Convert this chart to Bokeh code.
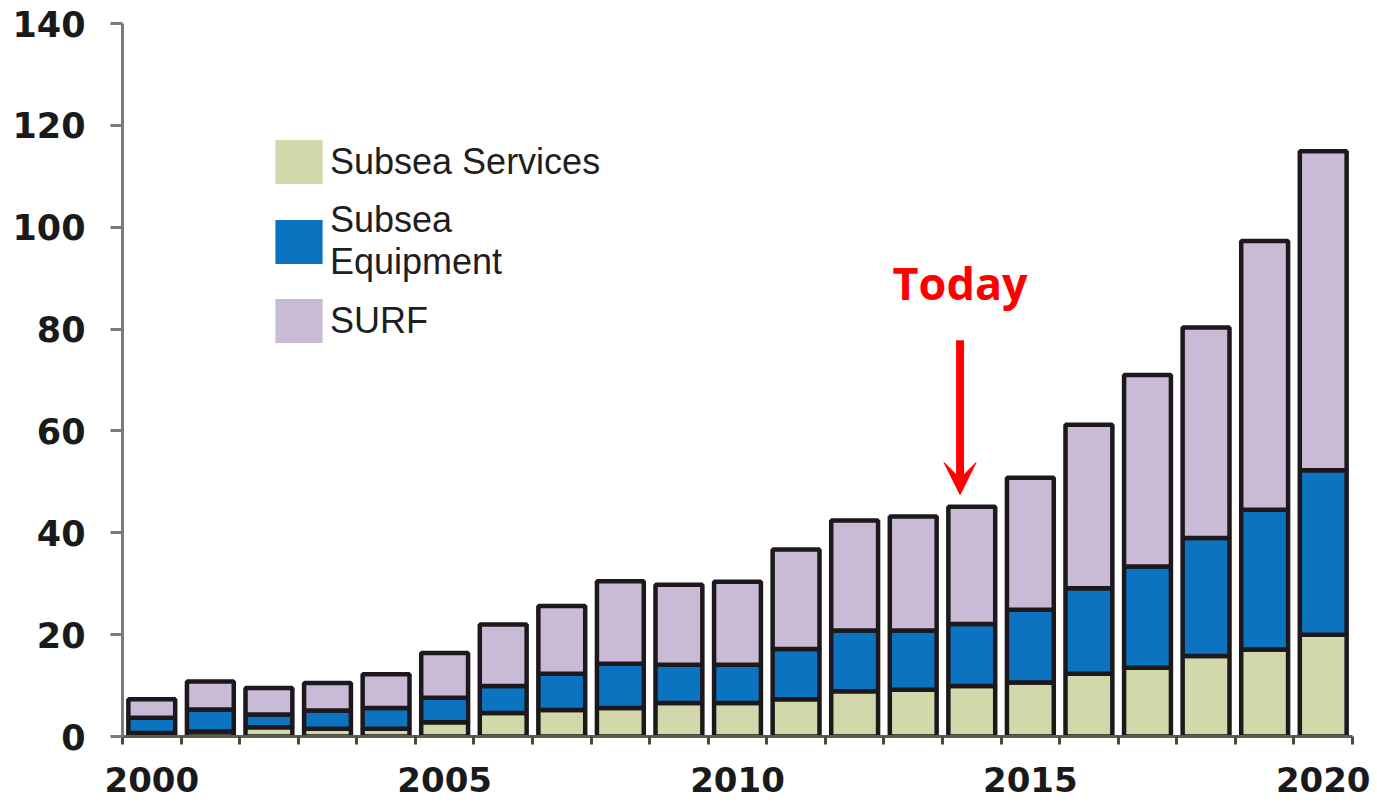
from bokeh.plotting import figure
from bokeh.models import (ColumnDataSource, Range1d, FixedTicker, Legend, LegendItem,
                          Arrow, VeeHead, Label)
from bokeh.embed import file_html
from bokeh.resources import INLINE

years = list(range(2000, 2021))
services = [0.7, 1.0, 1.8, 1.5, 1.5, 2.8, 4.6, 5.2, 5.6, 6.6, 6.6,
            7.3, 8.9, 9.2, 9.9, 10.6, 12.3, 13.5, 15.8, 17.1, 20.0]
equipment = [3.0, 4.3, 2.5, 3.6, 4.1, 4.8, 5.3, 7.1, 8.7, 7.5, 7.5,
             9.9, 11.9, 11.6, 12.2, 14.3, 16.8, 19.9, 23.2, 27.4, 32.3]
surf = [3.6, 5.5, 5.2, 5.4, 6.6, 8.8, 12.1, 13.3, 16.2, 15.7, 16.3,
        19.5, 21.6, 22.4, 23.0, 25.9, 32.1, 37.6, 41.3, 52.8, 62.6]
series = ["Subsea Services", "Subsea Equipment", "SURF"]
legend_labels = ["Subsea Services", "Subsea\nEquipment", "SURF"]
colors = ["#d3d8ab", "#0b73c0", "#c9bad6"]
y_ticks = [0, 20, 40, 60, 80, 100, 120, 140]
x_label_ticks = [2000, 2005, 2010, 2015, 2020]
today_year = 2013.8
today_label = "Today"

source = ColumnDataSource(dict(year=years, **{series[0]: services,
                                             series[1]: equipment,
                                             series[2]: surf}))

p = figure(width=1377, height=803, x_range=Range1d(1999.5, 2020.5),
           y_range=Range1d(0, 140), output_backend="svg", toolbar_location=None,
           min_border_left=122, min_border_right=25, min_border_top=23,
           min_border_bottom=67)
p.outline_line_color = None
p.grid.visible = False
p.background_fill_color = "white"

# unoutlined stack (used for legend swatches), covered by the outlined stack
proxies = p.vbar_stack(series, x="year", width=0.8, source=source,
                       fill_color=colors, line_color=None)
renderers = p.vbar_stack(series, x="year", width=0.8, source=source,
                         fill_color=colors, line_color="#1c181c", line_width=4.5)

legend = Legend(items=[LegendItem(label=l, renderers=[r]) for l, r in zip(legend_labels, proxies)],
                location=(147, 388), padding=0, margin=0, border_line_color=None,
                background_fill_alpha=0, glyph_width=59, glyph_height=55,
                label_text_font="Liberation Sans", label_text_font_size="36px",
                label_text_line_height=0.9,
                label_text_color="#1e1e1e", label_standoff=2, spacing=10)
p.add_layout(legend, "center")

# axes
ya = p.yaxis[0]
ya.ticker = FixedTicker(ticks=y_ticks)
ya.axis_line_color = "#7a7a7a"
ya.axis_line_width = 3
ya.major_tick_line_color = "#7a7a7a"
ya.major_tick_line_width = 3
ya.major_tick_out = 12
ya.major_tick_in = 0
ya.minor_tick_line_color = None
ya.major_label_text_font = "DejaVu Sans"
ya.major_label_text_font_style = "bold"
ya.major_label_text_font_size = "35px"
ya.major_label_text_color = "#1a1a1a"
ya.major_label_standoff = 25

xa = p.xaxis[0]
xa.ticker = FixedTicker(ticks=x_label_ticks,
                        minor_ticks=[y - 0.5 for y in years] + [years[-1] + 0.5])
xa.axis_line_color = "#5e5e4c"
xa.axis_line_width = 3
xa.major_tick_line_color = None
xa.minor_tick_line_color = "#4a4a40"
xa.minor_tick_line_width = 3
xa.minor_tick_out = 8
xa.minor_tick_in = 0
xa.major_label_text_font = "DejaVu Sans"
xa.major_label_text_font_style = "bold"
xa.major_label_text_font_size = "34px"
xa.major_label_text_color = "#1a1a1a"
xa.major_label_standoff = 22

# Today annotation
p.add_layout(Arrow(end=VeeHead(size=32, fill_color="red", line_color="red"),
                   x_start=today_year, y_start=77.8, x_end=today_year, y_end=47.5,
                   line_color="red", line_width=8))
p.add_layout(Label(x=today_year, y=89.2, text=today_label, text_align="center",
                   text_baseline="alphabetic", text_font="Open Sans",
                   text_font_style="bold", text_font_size="45px", text_color="red"))

open("out.html", "w").write(file_html(p, INLINE))
